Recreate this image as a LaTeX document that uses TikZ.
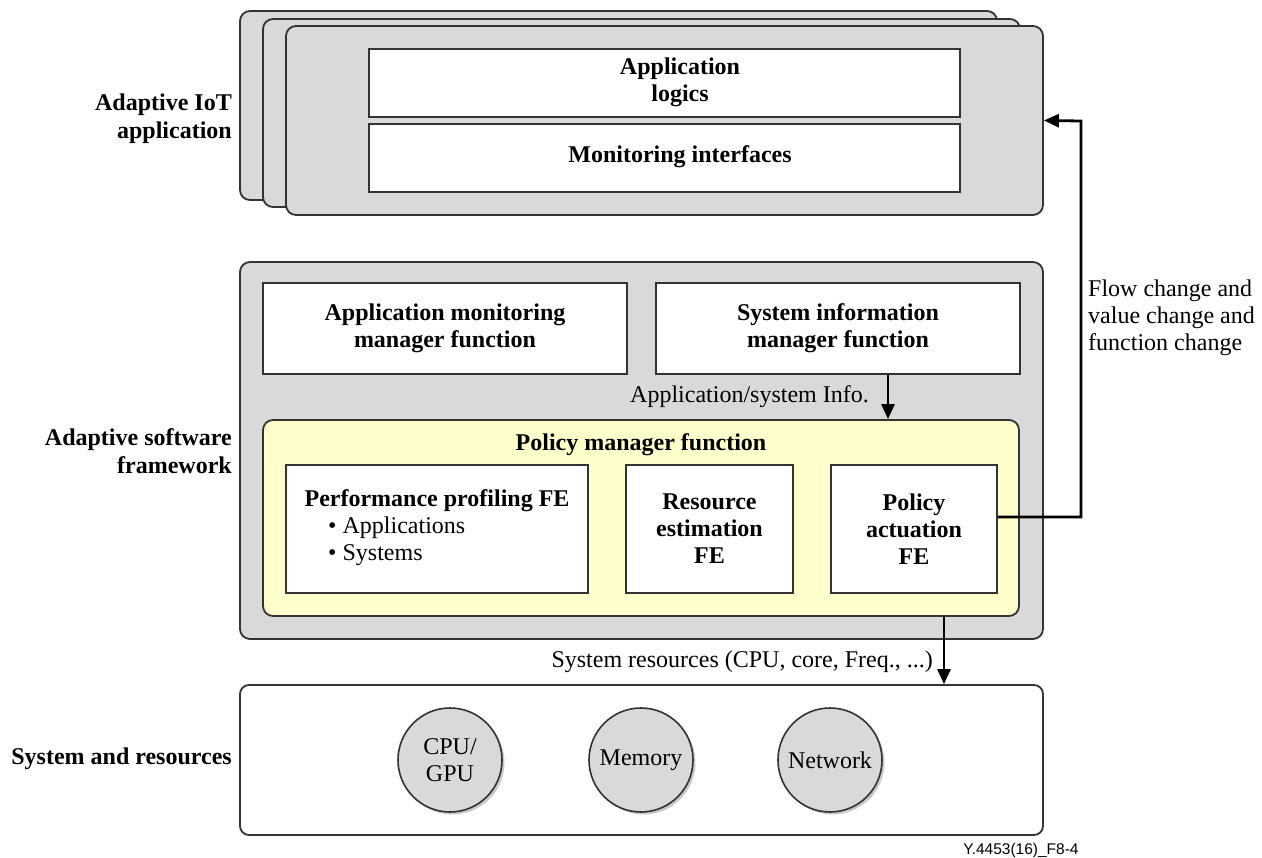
\documentclass[tikz,border=0pt]{standalone}
\usepackage{fontspec}
\setmainfont{Liberation Serif}
\newfontfamily\capfont{Liberation Sans}
\usetikzlibrary{arrows.meta,shadows}
\definecolor{boxgray}{HTML}{D9D9D9}
\definecolor{pmyellow}{HTML}{FFFFCC}
\definecolor{edge}{HTML}{333333}
\tikzset{
  base/.style={font=\fontsize{24}{28}\selectfont},
  graybox/.style={draw=edge, line width=1.8pt, fill=boxgray, rounded corners=10pt, inner sep=0pt},
  whitebox/.style={draw=edge, line width=1.8pt, fill=white, inner sep=0pt, align=center, font=\fontsize{24}{27}\selectfont\bfseries},
  yellowbox/.style={draw=edge, line width=1.8pt, fill=pmyellow, rounded corners=10pt, inner sep=0pt},
  resbox/.style={draw=edge, line width=1.8pt, fill=white, rounded corners=9pt, inner sep=0pt},
  rescircle/.style={circle, draw=edge, line width=1.6pt, fill=boxgray, minimum size=104pt, inner sep=0pt, align=center,
     font=\fontsize{24}{27}\selectfont, drop shadow={shadow xshift=2.5pt, shadow yshift=-2.5pt, fill=black!35, opacity=0.6}},
  sidelabel/.style={anchor=east, align=right, font=\fontsize{24}{28}\selectfont\bfseries, inner sep=0pt},
  plain/.style={font=\fontsize{24}{27}\selectfont, inner sep=0pt},
  boldtxt/.style={font=\fontsize{24}{27}\selectfont\bfseries, inner sep=0pt, align=center},
  arr/.style={line width=2.8pt, -{Triangle[length=15pt,width=13pt]}},
}
\begin{document}
\begin{tikzpicture}[x=1pt, y=-1pt]
\useasboundingbox (0,0) rectangle (1262,858);

% --- Adaptive IoT application (stacked) ---
\node[graybox, minimum width=757pt, minimum height=189pt] (s1) at (618.5,105.5) {};
\node[graybox, minimum width=757pt, minimum height=188pt] (s2) at (641.5,113) {};
\node[graybox, minimum width=757pt, minimum height=189pt] (s3) at (664.5,120.5) {};
\node[whitebox, minimum width=591pt, minimum height=68pt] (logic) at (664.5,83) {};
\node[boldtxt] (logictxt) at (680,82) {Application\\logics};
\node[whitebox, minimum width=591pt, minimum height=68pt] (monif) at (664.5,158) {};
\node[boldtxt] (moniftxt) at (680,157) {Monitoring interfaces};

% --- Adaptive software framework ---
\node[graybox, minimum width=803pt, minimum height=377pt] (fw) at (641.5,450.5) {};
\node[whitebox, minimum width=364pt, minimum height=91pt] (ammf) at (445,328.5) {Application monitoring\\manager function};
\node[whitebox, minimum width=364pt, minimum height=91pt] (simf) at (838,328.5) {System information\\manager function};
\node[yellowbox, minimum width=756pt, minimum height=196pt] (pm) at (641,518) {};
\node[boldtxt] (pmtitle) at (641,445) {Policy manager function};
\node[whitebox, minimum width=302pt, minimum height=128pt] (ppfe) at (437,529) {};
\node[boldtxt] (pptitle) at (437,501) {Performance profiling FE};
\node[plain, anchor=west] (ppa) at (328,528) {\textbullet\ Applications};
\node[plain, anchor=west] (pps) at (328,555) {\textbullet\ Systems};
\node[whitebox, minimum width=167pt, minimum height=128pt] (refe) at (709.5,529) {Resource\\estimation\\FE};
\node[whitebox, minimum width=166pt, minimum height=128pt] (pafe) at (914,529) {Policy\\actuation\\FE};

% --- System and resources ---
\node[resbox, minimum width=803pt, minimum height=150pt] (sr) at (641.5,760) {};
\node[rescircle] (cpu) at (450,760) {CPU/\\GPU};
\node[rescircle] (mem) at (641,760) {Memory};
\node[rescircle] (net) at (830,760) {Network};

% --- Side labels ---
\node[sidelabel] (l1) at (232,119) {Adaptive IoT\\application};
\node[sidelabel] (l2) at (232,451) {Adaptive software\\framework};
\node[sidelabel] (l3) at (232,759) {System and resources};

% --- Connectors ---
\draw[arr] ([xshift=50pt]simf.south) -- ([xshift=50pt]simf.south |- pm.north);
\node[plain, anchor=east] (infolbl) at (869,397) {Application/system Info.};

\coordinate (fc) at (1081,121);
\draw[arr] ([yshift=12pt]pafe.east) -| (fc) -- (s3.east);
\node[anchor=west, align=left, inner sep=0pt, font=\fontsize{24}{27}\selectfont] (flowlbl) at (1088,318) {Flow change and\\value change and\\function change};

\draw[arr] ([xshift=303pt]pm.south) -- ([xshift=303pt]pm.south |- sr.north);
\node[plain, anchor=east] (reslbl) at (933,662) {System resources (CPU, core, Freq., ...)};

% --- Caption ---
\node[inner sep=0pt, font=\capfont\fontsize{15.5}{18}\selectfont] (cap) at (1021,850) {Y.4453(16)\_F8-4};
\end{tikzpicture}
\end{document}
